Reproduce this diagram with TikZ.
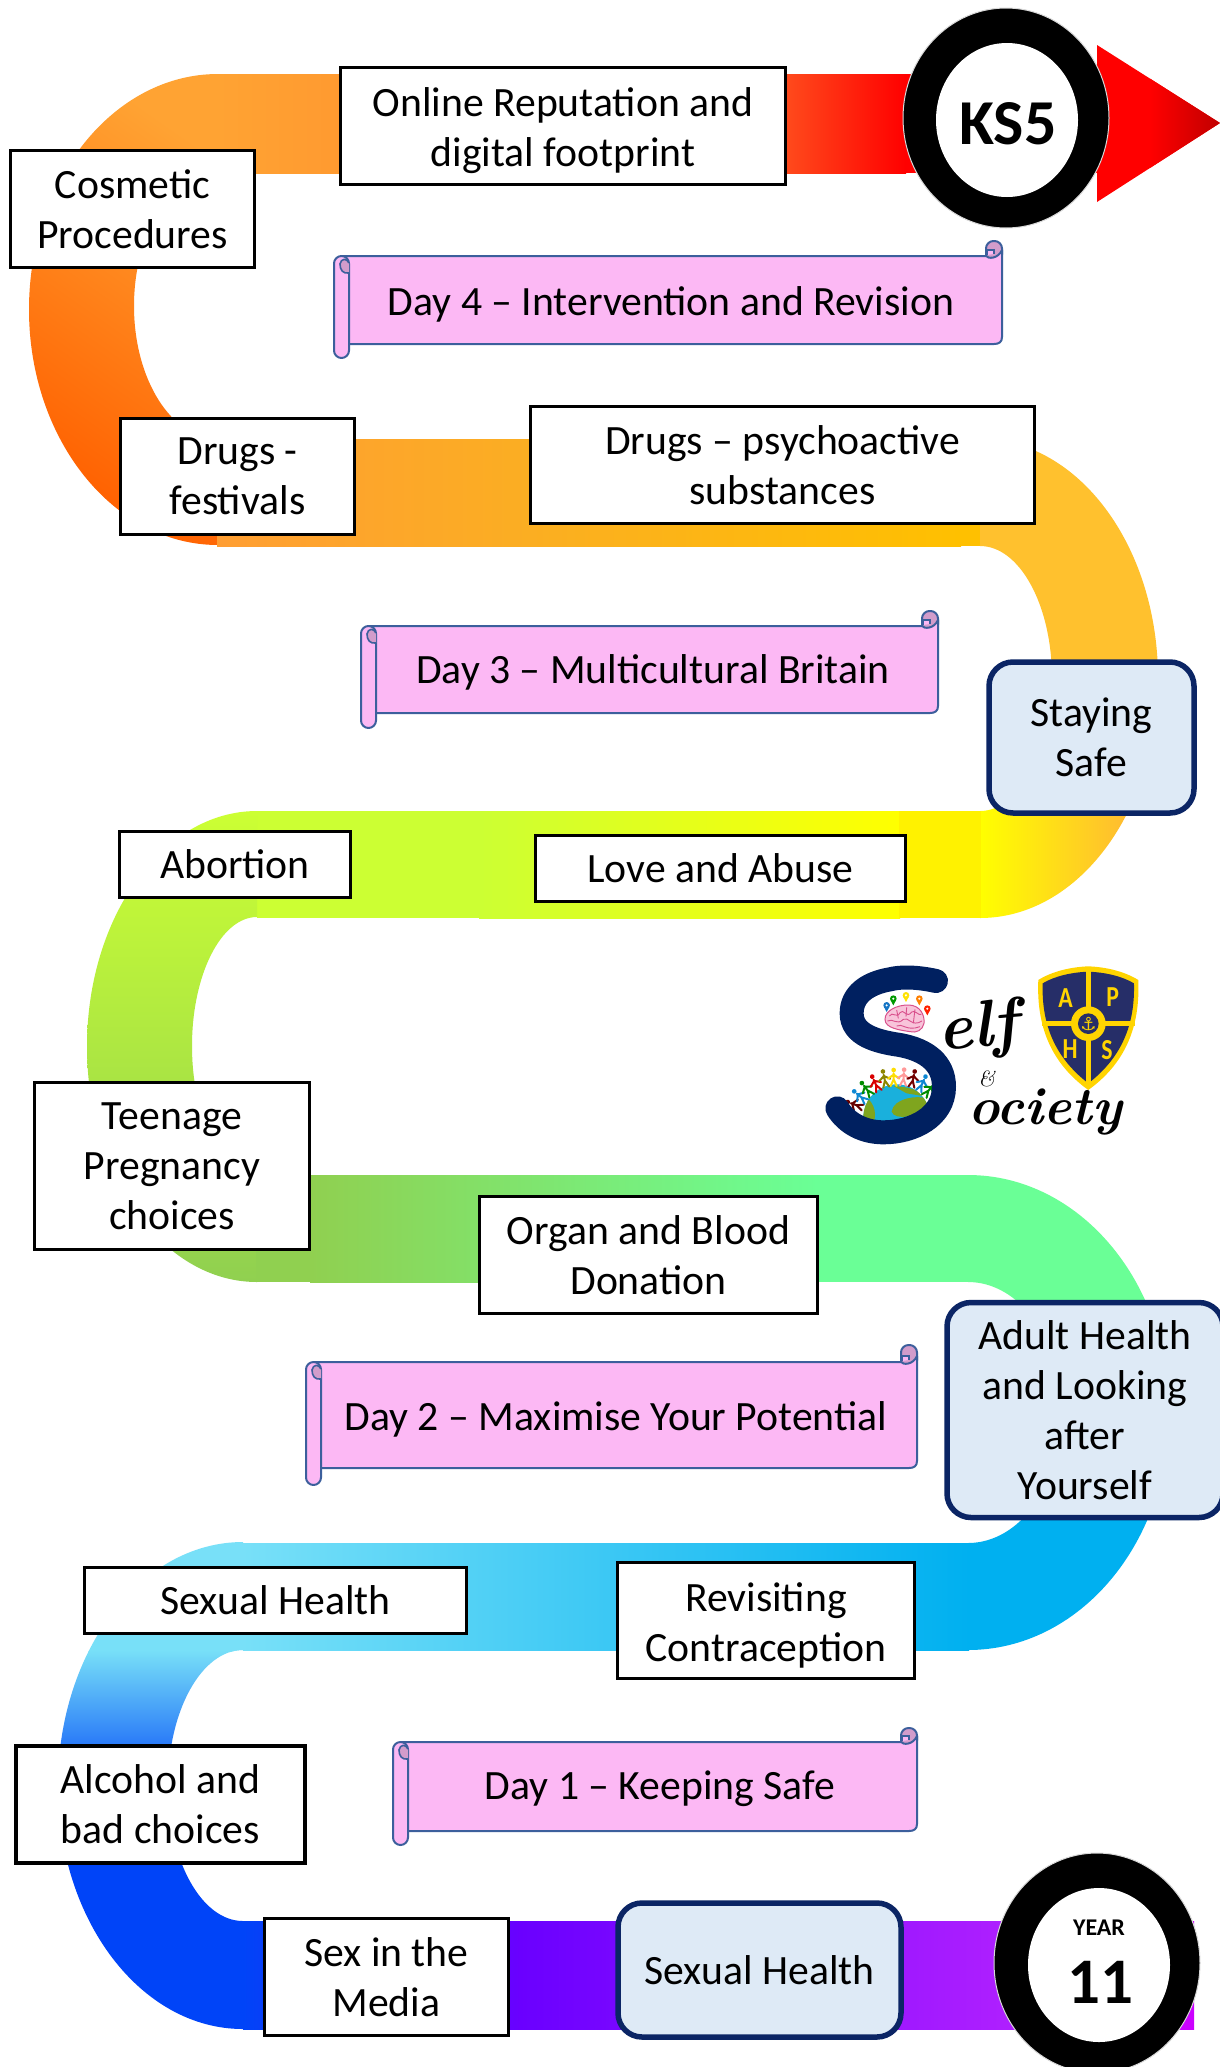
\documentclass[tikz,border=0pt]{standalone}
\usepackage{fontspec}
\setsansfont{Carlito}
\newfontfamily\symf{DejaVu Sans}
\usetikzlibrary{calc}
\newcommand\hexc[2]{\definecolor{#1}{HTML}{#2}}
\hexc{navyb}{0B2565}\hexc{paleb}{DEEAF6}\hexc{pinkf}{FCB8F4}\hexc{pinkd}{D29CCB}
\hexc{scrl}{3C5F9C}\hexc{snavy}{002060}\hexc{shblue}{262E68}\hexc{shyel}{FFD400}
\hexc{oranA}{FFA333}\hexc{oranA2}{FF9A30}\hexc{oranA3}{FF4A1C}\hexc{oranB}{FF6000}\hexc{oranC}{FF9E33}\hexc{oranD}{FBAE22}\hexc{goldA}{FFC000}\hexc{goldB}{FFC12E}\hexc{goldC}{FFB833}
\hexc{limeA}{CCFF33}\hexc{limeB}{AADE3E}\hexc{limeC}{90D050}\hexc{mintA}{6AFF96}
\hexc{cyanA}{00B0F0}\hexc{cyanB}{78E0F8}\hexc{blueA}{0044F8}\hexc{violA}{6A00FF}\hexc{violB}{B020FF}\hexc{violC}{CC00FF}
\hexc{darkred}{C00000}\hexc{brainf}{F8C4DA}\hexc{brainl}{D9508C}
\hexc{gblue}{1AB0DC}\hexc{ggreen}{7FA51E}
\tikzset{
  labelbox/.style={draw=black,line width=3.6pt,fill=white,inner sep=0pt,align=center,
    font=\sffamily\fontsize{41.7}{50}\selectfont,text=black},
  softbox/.style={draw=navyb,line width=5.5pt,fill=paleb,rounded corners=24pt,inner sep=0pt,align=center,
    font=\sffamily\fontsize{41.7}{50}\selectfont,text=black},
  scrolltext/.style={inner sep=0pt,font=\sffamily\fontsize{41.7}{50}\selectfont,text=black},
  scrollline/.style={draw=scrl,line width=2pt,line join=round},
  ringtxt/.style={inner sep=0pt,text=black},
  shieldl/.style={inner sep=0pt,font=\sffamily\bfseries\fontsize{29}{29}\selectfont,text=shyel,xscale=.82,transform shape},
  scriptl/.style={inner sep=0pt,text=black},
}
\newcommand\hgrad[6]{\shade[left color=#5,right color=#6] (#1,#3) rectangle (#2,#4);}
\newcommand\ringpath[7]{%
  (#1,#2) .. controls ({#1+.5523*(#4-#1)},#2) and (#4,{(#2+#3)/2-.5523*(#3-#2)/2}) .. (#4,{(#2+#3)/2})
  .. controls (#4,{(#2+#3)/2+.5523*(#3-#2)/2}) and ({#1+.5523*(#4-#1)},#3) .. (#1,#3)
  -- (#1,#6) .. controls ({#1+.5523*(#7-#1)},#6) and (#7,{(#5+#6)/2+.5523*(#6-#5)/2}) .. (#7,{(#5+#6)/2})
  .. controls (#7,{(#5+#6)/2-.5523*(#6-#5)/2}) and ({#1+.5523*(#7-#1)},#5) .. (#1,#5) -- cycle}
\newcommand\banner[6]{%
  \draw[scrollline,fill=pinkd,rounded corners=7.5pt] ({#2-16},#4) rectangle (#2,{#3+6});
  \draw[scrollline,fill=pinkf] ({#1+8},#3) -- ({#2-16},#3) .. controls ({#2-14},{#3+3}) and ({#2-4},{#3+3}) .. (#2,{#3-6})
    -- (#2,{#5-7}) .. controls (#2,{#5-2}) and ({#2-3},#5) .. ({#2-8},#5) -- ({#1+8},#5) -- cycle;
  \draw[scrl,line width=1.6pt,fill=pinkf] ({#2-15},{#3-1}) -- ({#2-15},{#3-6}) -- ({#2-8},{#3-6}) -- ({#2-8},{#3-2});
  \draw[scrollline,fill=pinkf,rounded corners=7.5pt] (#1,#3) rectangle ({#1+15},#6);
  \draw[scrl,line width=1.6pt,fill=pinkd] ({#1+15},{#3+7}) .. controls ({#1+13},{#3+2}) and ({#1+7},{#3+2}) .. ({#1+6},{#3+8})
    .. controls ({#1+6},{#3+14}) and ({#1+9},{#3+18}) .. ({#1+15},{#3+17});
}
\newcommand\figperson[4]{%
  \begin{scope}[shift={(#1,#2)},rotate=#3]
    \fill[#4] (0,-20) circle[radius=7];
    \draw[#4,line width=2pt,line cap=round] (0,-10) -- (0,8) (0,8) -- (-9,28) (0,8) -- (9,28) (-17,6) -- (0,-6) -- (17,6);
  \end{scope}}
\newcommand\figpin[3]{%
  \fill[#3] (#1,#2) circle[radius=10];
  \fill[#3] ({#1-8},{#2+5}) -- ({#1+8},{#2+5}) -- (#1,{#2+20}) -- cycle;
  \fill[white] (#1,#2) circle[radius=3.5];}
\begin{document}
\begin{tikzpicture}[x=1pt,y=-1pt]
\useasboundingbox (0,0) rectangle (1220,2067);
\fill[white] (0,0) rectangle (1220,2067);

% ---------- ribbon ----------
\hgrad{217}{341}{74}{173}{oranA}{oranA2}
\hgrad{340}{787}{74}{173}{oranA2}{oranA3}
\hgrad{786}{906}{74}{173}{oranA3}{red}
\fill[red] (905,74) rectangle (1110,173);
\fill[red] (1097,45) -- (1220,123) -- (1097,202) -- cycle;
\begin{scope}
  \clip (1097,45) -- (1220,123) -- (1097,202) -- cycle;
  \hgrad{1150}{1221}{40}{210}{red}{darkred}
\end{scope}
% arc 1
\shade[top color=oranA,bottom color=oranB,shading angle=-35] \ringpath{218}{74}{545}{29}{173}{439}{134};
% band 2
\hgrad{217}{531}{439}{546}{oranC}{oranD}
\hgrad{530}{961}{439}{546}{oranD}{goldA}
\fill[goldA] (960,439) rectangle (981,546);
% arc 2
\begin{scope}
  \clip \ringpath{980}{439}{918}{1158}{546}{811}{1052};
  \fill[goldB] (970,430) rectangle (1170,760);
  \hgrad{980}{1135}{755}{930}{yellow}{goldC}
  \fill[goldC] (1134,755) rectangle (1170,930);
\end{scope}
% band 3
\fill[limeA] (257,811) rectangle (480,918);
\hgrad{479}{900}{811}{918}{limeA}{yellow}
\fill[yellow] (899,811) rectangle (981,918);
% arc 3
\shade[top color=limeA,bottom color=limeC] \ringpath{257}{811}{1282}{87}{917}{1175}{192};
% band 4
\fill[limeC] (256,1175) rectangle (311,1282);
\hgrad{310}{818}{1175}{1282}{limeC}{mintA}
\fill[mintA] (817,1175) rectangle (969,1282);
% arc 4
\begin{scope}
  \clip \ringpath{968}{1175}{1650}{1169}{1282}{1543}{1062};
  \fill[mintA] (960,1170) rectangle (1180,1420);
  \fill[cyanA] (960,1410) rectangle (1180,1660);
\end{scope}
% band 5
\hgrad{243}{969}{1543}{1650}{cyanB}{cyanA}
% arc 5
\begin{scope}
  \clip \ringpath{243}{1542}{2029}{58}{1650}{1921}{168};
  \fill[cyanB] (50,1535) rectangle (250,1652);
  \shade[top color=cyanB,bottom color=blueA] (50,1650) rectangle (250,1795);
  \fill[blueA] (50,1794) rectangle (250,2035);
\end{scope}
% bottom band
\hgrad{243}{520}{1921}{2029}{blueA}{violA}
\hgrad{519}{1020}{1921}{2029}{violA}{violB}
\hgrad{1019}{1194}{1921}{2029}{violB}{violC}

% ---------- logo ----------
\begin{scope}[shift={(750,920)},scale=.3333]
  % globe
  \begin{scope}
    \clip (330,485) rectangle (560,625);
    \clip (440,593) circle[radius=100];
    \fill[gblue] (320,480) rectangle (560,625);
    \fill[ggreen] (425,575) .. controls (430,535) and (500,525) .. (530,535) .. controls (540,560) and (500,590) .. (470,590) .. controls (450,592) and (430,590) .. (425,575) -- cycle;
    \fill[ggreen] (335,520) .. controls (365,540) and (385,570) .. (370,610) -- (330,610) -- cycle;
    \fill[ggreen] (430,498) .. controls (470,500) and (510,510) .. (530,530) -- (470,520) -- cycle;
  \end{scope}
  % people
  \figperson{312}{553}{70}{red!40!black}
  \figperson{328}{527}{50}{cyan!70!blue}
  \figperson{348}{505}{38}{green!55!black}
  \figperson{375}{488}{25}{red!85!black}
  \figperson{403}{474}{12}{olive}
  \figperson{431}{470}{0}{yellow!80!orange}
  \figperson{461}{469}{-4}{pink!80!red}
  \figperson{490}{474}{-12}{red!45!black}
  \figperson{518}{488}{-25}{cyan!70!blue}
  \figperson{540}{506}{-38}{green!55!black}
  % brain
  \fill[brainf,draw=brainl,line width=1pt] (405,298) .. controls (405,272) and (440,255) .. (475,255)
    .. controls (510,255) and (525,285) .. (522,310) .. controls (518,330) and (500,340) .. (480,335)
    .. controls (450,330) and (405,325) .. (405,298) -- cycle;
  \draw[brainl,line width=.9pt] (418,288) .. controls (428,272) and (440,298) .. (450,278) .. controls (460,263) and (470,298) .. (485,276) .. controls (495,268) and (505,288) .. (514,283)
    (412,303) .. controls (430,293) and (440,318) .. (460,298) .. controls (475,288) and (485,323) .. (516,303)
    (440,318) .. controls (455,308) and (470,335) .. (510,320)
    (440,270) -- (445,295) (470,262) -- (468,290) (495,268) -- (490,310);
  \figpin{410}{256}{cyan!55!blue}
  \figpin{430}{236}{green!60!black}
  \figpin{468}{226}{yellow!85!orange}
  \figpin{508}{236}{orange}
  \figpin{532}{266}{red!75!orange}
  % S
  \draw[snavy,line width=24pt,line cap=round] (558,183) .. controls (500,170) and (450,170) .. (420,178)
    .. controls (350,190) and (305,225) .. (305,280) .. controls (305,345) and (380,365) .. (450,375)
    .. controls (530,390) and (582,430) .. (582,500) .. controls (582,590) and (490,637) .. (400,637)
    .. controls (340,637) and (290,610) .. (262,565);
  % shield
  \fill[shyel] (1015,139) .. controls (960,141) and (905,155) .. (865,180) .. controls (860,300) and (890,420) .. (1015,510)
     .. controls (1140,420) and (1170,300) .. (1165,180) .. controls (1125,155) and (1070,141) .. (1015,139) -- cycle;
  \fill[shblue] (1015,155) .. controls (965,157) and (915,168) .. (878,190) .. controls (875,300) and (905,405) .. (1015,490)
     .. controls (1125,405) and (1155,300) .. (1152,190) .. controls (1115,168) and (1065,157) .. (1015,155) -- cycle;
  \fill[shyel] (1007,150) rectangle (1023,495);
  \fill[shyel] (875,302) rectangle (1155,319);
  \fill[shyel] (1015,311) circle[radius=52];
  \fill[shblue] (1015,311) circle[radius=31];
\end{scope}
\node[shieldl] (shA) at ({750+947/3},{920+235/3}) {A};
\node[shieldl] (shP) at ({750+1088/3},{920+232/3}) {P};
\node[shieldl] (shH) at ({750+960/3},{920+388/3}) {H};
\node[shieldl] (shS) at ({750+1071/3},{920+390/3}) {S};
\node[inner sep=0pt,text=shyel,font=\symf\fontsize{18}{18}\selectfont] (anchorsym) at ({750+1015/3},{920+311/3}) {⚓};
\node[scriptl,font=\rmfamily\itshape\bfseries\fontsize{66}{66}\selectfont,rotate=5] (selfw) at ({750+685/3},{920+332/3}) {elf};
\node[scriptl,font=\rmfamily\itshape\fontsize{22}{22}\selectfont] (ampw) at ({750+710/3},{920+478/3}) {\&};
\node[scriptl,font=\rmfamily\itshape\bfseries\fontsize{53}{53}\selectfont] (socw) at ({750+886/3},{920+576/3}) {ociety};

% ---------- boxes ----------
\node[labelbox,minimum width=445pt,minimum height=117pt] (rep) at (563,126) {\rule{0pt}{38pt}Online Reputation and\\digital footprint};
\node[labelbox,minimum width=244pt,minimum height=117pt] (cos) at (132.5,209) {Cosmetic\\Procedures};
\node[labelbox,minimum width=234pt,minimum height=116pt] (fes) at (237.5,476.5) {Drugs -\\festivals};
\node[labelbox,minimum width=504pt,minimum height=117pt] (psy) at (782.5,465) {Drugs -- psychoactive\\substances};
\node[softbox,minimum width=205pt,minimum height=151pt] (staysafe) at (1091.5,737.5) {Staying\\Safe};
\node[labelbox,minimum width=231pt,minimum height=66pt] (abo) at (235,864.5) {Abortion};
\node[labelbox,minimum width=370pt,minimum height=66pt] (love) at (720.5,868.5) {Love and Abuse};
\node[labelbox,minimum width=275pt,minimum height=167pt] (teen) at (172,1166) {Teenage\\Pregnancy\\choices};
\node[labelbox,minimum width=338pt,minimum height=117pt] (organ) at (648.5,1255) {Organ and Blood\\Donation};
\node[softbox,minimum width=276pt,minimum height=215pt] (adult) at (1085,1410) {Adult Health\\and Looking\\after\\Yourself};
\node[labelbox,minimum width=382pt,minimum height=66pt] (sh1) at (275.5,1600.5) {Sexual Health};
\node[labelbox,minimum width=297pt,minimum height=116pt] (rev) at (766,1620.5) {\rule{0pt}{38pt}Revisiting\\Contraception};
\node[labelbox,minimum width=289pt,minimum height=117pt] (alc) at (160.5,1804.5) {Alcohol and\\bad choices};
\node[labelbox,minimum width=244pt,minimum height=117pt] (sexm) at (386.5,1977) {Sex in the\\Media};
\node[softbox,minimum width=283pt,minimum height=134pt] (sh2) at (759.5,1970) {Sexual Health};

% ---------- scrolls ----------
\banner{334}{1002}{256}{241}{344}{358}
\node[scrolltext] (day4) at (671,304) {Day 4 -- Intervention and Revision};
\banner{361}{938}{626}{611}{713}{728}
\node[scrolltext] (day3) at (653,672) {Day 3 -- Multicultural Britain};
\banner{306}{917}{1362}{1345}{1468}{1485}
\node[scrolltext] (day2) at (616,1419) {Day 2 -- Maximise Your Potential};
\banner{393}{917}{1742}{1728}{1831}{1845}
\node[scrolltext] (day1) at (660,1789) {Day 1 -- Keeping Safe};

% ---------- rings ----------
\fill[black,draw=black!15,line width=1pt] (1006,118) ellipse[x radius=103,y radius=110];
\fill[white] (1007,120) ellipse[x radius=71,y radius=77];
\node[ringtxt,font=\sffamily\bfseries\fontsize{64}{64}\selectfont] (ks5) at (1008,124) {KS5};
\fill[black,draw=black!15,line width=1pt] (1097,1963) ellipse[x radius=103,y radius=110];
\fill[white] (1099,1965) ellipse[x radius=71,y radius=77];
\node[ringtxt,font=\sffamily\bfseries\fontsize{24}{24}\selectfont] (yr) at (1099,1928) {YEAR};
\node[ringtxt,font=\sffamily\bfseries\fontsize{65}{65}\selectfont] (yr11) at (1100,1982) {11};
\end{tikzpicture}
\end{document}
